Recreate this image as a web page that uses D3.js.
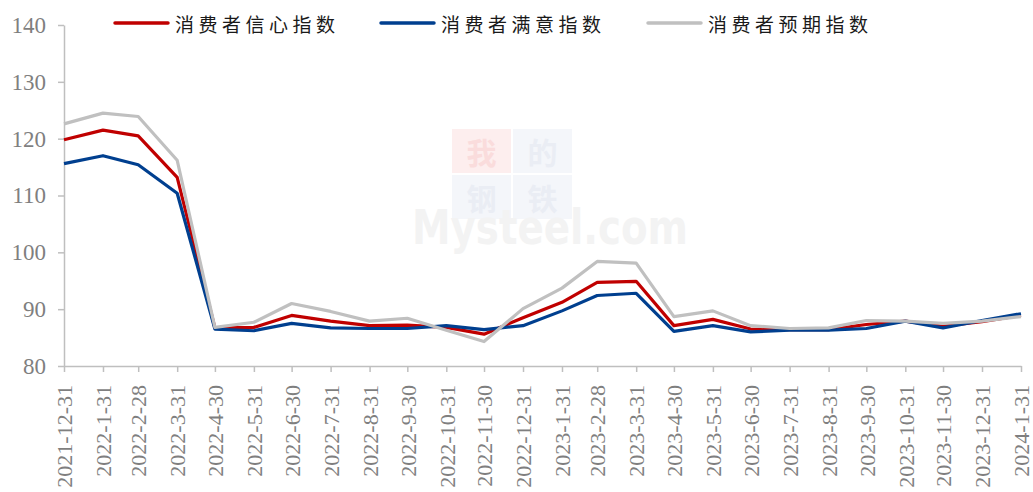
<!DOCTYPE html>
<html>
<head>
<meta charset="utf-8">
<script src="https://cdn.jsdelivr.net/npm/d3@7"></script>
<style>
  html, body { margin: 0; padding: 0; background: #fff; }
  svg { display: block; }
</style>
</head>
<body>
<svg id="chart"></svg>
<script>
const dates = [
  '2021-12-31', '2022-1-31', '2022-2-28', '2022-3-31', '2022-4-30', '2022-5-31',
  '2022-6-30', '2022-7-31', '2022-8-31', '2022-9-30', '2022-10-31', '2022-11-30',
  '2022-12-31', '2023-1-31', '2023-2-28', '2023-3-31', '2023-4-30', '2023-5-31',
  '2023-6-30', '2023-7-31', '2023-8-31', '2023-9-30', '2023-10-31', '2023-11-30',
  '2023-12-31', '2024-1-31'
]

// 消费者信心指数
const confidence = [
  119.8, 121.5, 120.5, 113.2, 86.7, 86.8, 88.9, 87.9, 87.1, 87.2, 86.8, 85.6,
  88.5, 91.2, 94.7, 94.9, 87.1, 88.2, 86.5, 86.4, 86.4, 87.3, 87.9, 87.0,
  87.8, 88.9
]
// 消费者满意指数
const satisfaction = [
  115.6, 117.0, 115.4, 110.4, 86.5, 86.2, 87.5, 86.7, 86.6, 86.6, 87.1, 86.4,
  87.1, 89.7, 92.4, 92.8, 86.1, 87.1, 86.0, 86.3, 86.3, 86.6, 87.9, 86.7,
  88.0, 89.2
]
// 消费者预期指数
const expectation = [
  122.6, 124.5, 123.9, 116.2, 86.8, 87.7, 91.0, 89.6, 87.9, 88.4, 86.3, 84.3,
  90.1, 93.7, 98.4, 98.1, 88.7, 89.7, 87.1, 86.6, 86.7, 88.0, 87.9, 87.5,
  87.9, 88.7
]

const yTicks = [80, 90, 100, 110, 120, 130, 140]

const seriesNames = ['消费者信心指数', '消费者满意指数', '消费者预期指数']
const seriesColors = ['#c00000', '#003f8f', '#c0c0c0']
const seriesValues = [confidence, satisfaction, expectation]

const w = 1033
const h = 492
const padL = 64
const padR = 12
const padT = 25
const padB = 126

const parse = d3.timeParse('%Y-%m-%d')
const times = dates.map((d) => parse(d))

const svg = d3.select('#chart').attr('width', w).attr('height', h)

// watermark (我的钢铁 / Mysteel.com), very faint
const wm = svg.append('g').attr('id', 'watermark')
const boxes = [
  { c: '我', fill: '#fdeeee', text: '#fadcdc', col: 0, row: 0 },
  { c: '的', fill: '#f4f6fa', text: '#eaedf4', col: 1, row: 0 },
  { c: '钢', fill: '#f4f6fa', text: '#eaedf4', col: 0, row: 1 },
  { c: '铁', fill: '#f4f6fa', text: '#eaedf4', col: 1, row: 1 },
]
boxes.forEach((b) => {
  const bx = 452 + b.col * 61
  const by = 129 + b.row * 46
  wm.append('rect').attr('x', bx).attr('y', by).attr('width', 59).attr('height', 44).attr('fill', b.fill)
  wm.append('text')
    .attr('x', bx + 29.5).attr('y', by + 22)
    .attr('text-anchor', 'middle').attr('dominant-baseline', 'central')
    .style('font-family', '"Noto Sans CJK SC", sans-serif')
    .style('font-weight', 'bold').style('font-size', '30px')
    .attr('fill', b.text).text(b.c)
})
wm.append('text')
  .attr('x', 412).attr('y', 244)
  .attr('textLength', 276)
  .attr('lengthAdjust', 'spacingAndGlyphs')
  .style('font-family', '"DejaVu Sans", sans-serif')
  .style('font-weight', 'bold')
  .style('font-size', '48px')
  .attr('fill', '#f3f3f3')
  .text('Mysteel.com')

const x = d3.scaleTime()
  .domain([times[0], times[times.length - 1]])
  .range([padL, w - padR])

const y = d3.scaleLinear().domain([80, 140]).range([h - padB, padT])

const axisColor = '#bfbfbf'
const labelColor = '#7f7f7f'

const xAxis = d3.axisBottom(x)
  .tickValues(times)
  .tickFormat((d, i) => dates[i])
  .tickSize(6)
  .tickSizeOuter(0)

const gx = svg.append('g')
  .attr('transform', `translate(0, ${h - padB})`)
  .call(xAxis)
gx.select('.domain').attr('stroke', axisColor).attr('stroke-width', 1.5)
gx.selectAll('.tick line').attr('stroke', axisColor).attr('stroke-width', 1.5)
gx.selectAll('.tick text')
  .attr('transform', 'rotate(-90)')
  .attr('x', -19)
  .attr('y', 0)
  .attr('dy', '0.35em')
  .style('text-anchor', 'end')
  .style('font-family', '"Liberation Serif", "Times New Roman", serif')
  .style('font-size', '22px')
  .attr('fill', labelColor)

const yAxis = d3.axisLeft(y).tickValues(yTicks).tickSize(6).tickSizeOuter(0).tickPadding(12)
const gy = svg.append('g')
  .attr('transform', `translate(${padL}, 0)`)
  .call(yAxis)
gy.select('.domain').attr('stroke', axisColor).attr('stroke-width', 1.5)
gy.selectAll('.tick line').attr('stroke', axisColor).attr('stroke-width', 1.5)
gy.selectAll('.tick text')
  .style('font-family', '"Liberation Serif", "Times New Roman", serif')
  .style('font-size', '23px')
  .attr('fill', labelColor)

const line = d3.line()
  .x((d, i) => x(times[i]))
  .y((d) => y(d))

seriesValues.forEach((vals, k) => {
  svg.append('path')
    .datum(vals)
    .attr('fill', 'none')
    .attr('stroke', seriesColors[k])
    .attr('stroke-width', 3.2)
    .attr('stroke-linejoin', 'round')
    .attr('d', line)
})

// legend
const legendX = [115, 381, 648]
const legendY = 23
const lg = svg.append('g').attr('id', 'legend')
seriesNames.forEach((name, k) => {
  lg.append('line')
    .attr('x1', legendX[k]).attr('x2', legendX[k] + 53)
    .attr('y1', legendY).attr('y2', legendY)
    .attr('stroke', seriesColors[k])
    .attr('stroke-width', 3.5)
    .attr('stroke-linecap', 'round')
  lg.append('text')
    .attr('x', legendX[k] + 60)
    .attr('y', legendY)
    .attr('dominant-baseline', 'central')
    .style('font-family', '"Noto Sans CJK SC", sans-serif')
    .style('font-size', '19px')
    .style('letter-spacing', '4.5px')
    .attr('fill', '#1a1a1a')
    .text(name)
})
</script>
</body>
</html>
